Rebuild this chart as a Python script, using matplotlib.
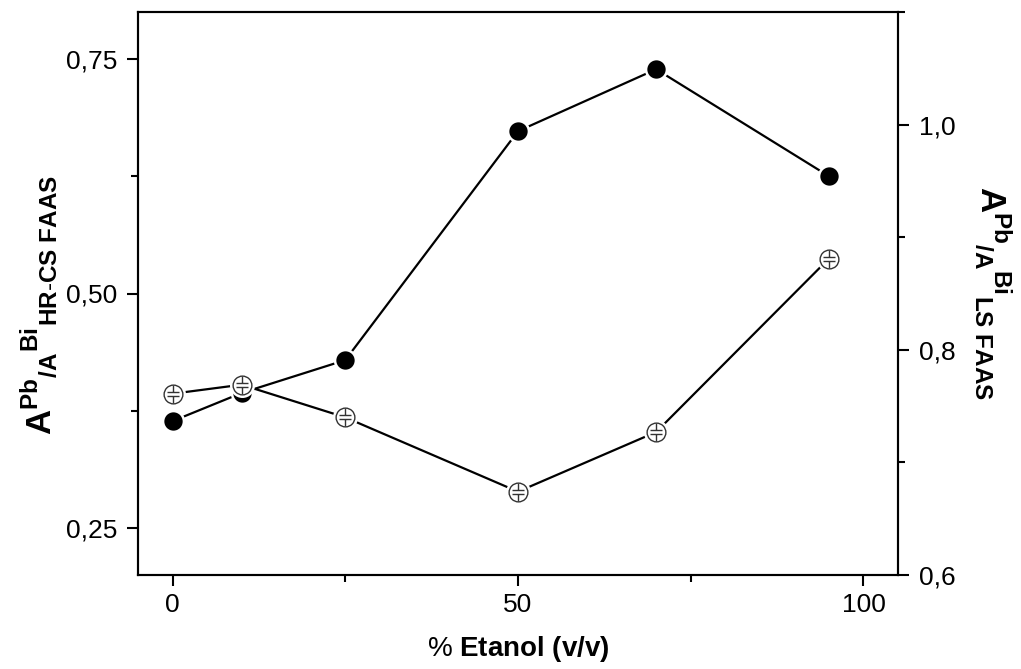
import numpy as np
import matplotlib
matplotlib.use('Agg')
import matplotlib.pyplot as plt
from matplotlib.path import Path
from matplotlib.ticker import MultipleLocator, FuncFormatter

plt.rcParams['font.family'] = ['Liberation Sans', 'DejaVu Sans']
plt.rcParams['mathtext.fontset'] = 'custom'
plt.rcParams['mathtext.rm'] = 'Liberation Sans'
plt.rcParams['mathtext.bf'] = 'Liberation Sans:bold'
plt.rcParams['mathtext.it'] = 'Liberation Sans:italic'

# data
etanol = [0, 10, 25, 50, 70, 95]
hrcs_ratio = [0.364, 0.394, 0.429, 0.673, 0.739, 0.625]   # filled circles, left axis
ls_ratio = [0.761, 0.769, 0.740, 0.674, 0.727, 0.881]     # open circles, right axis

# circle with "capacitor" cross inside
cross_verts = [(0, 1), (0, 0.17), (-0.6, 0.17), (0.6, 0.17),
               (-0.6, -0.17), (0.6, -0.17), (0, -0.17), (0, -1)]
cross_codes = [Path.MOVETO, Path.LINETO, Path.MOVETO, Path.LINETO,
               Path.MOVETO, Path.LINETO, Path.MOVETO, Path.LINETO]
cross_marker = Path(cross_verts, cross_codes)

fig = plt.figure(figsize=(10.21, 6.69), dpi=100)
ax = fig.add_axes([138 / 1021, 1 - 575 / 669, (898 - 138) / 1021, (575 - 12) / 669])
ax2 = ax.twinx()

ax.plot(etanol, hrcs_ratio, color='black', lw=1.6, marker='o', ms=15,
        mfc='black', mec='white', mew=1.8, zorder=3)

ax2.plot(etanol, ls_ratio, color='black', lw=1.6, marker='o', ms=15.5,
         mfc='white', mec='white', mew=2.5, zorder=3)
ax2.plot(etanol, ls_ratio, ls='none', marker='o', ms=13.5,
         mfc='white', mec='#333333', mew=1.0, zorder=4)
ax2.plot(etanol, ls_ratio, ls='none', marker=cross_marker, ms=13.5,
         mfc='none', mec='#333333', mew=1.0, zorder=5)

ax.set_xlim(-5, 105)
ax.set_ylim(0.2, 0.8)
ax2.set_ylim(0.6, 1.1)

ax.xaxis.set_major_locator(MultipleLocator(50))
ax.xaxis.set_minor_locator(MultipleLocator(25))
ax.yaxis.set_major_locator(MultipleLocator(0.25))
ax.yaxis.set_minor_locator(MultipleLocator(0.125))
ax2.yaxis.set_major_locator(MultipleLocator(0.2))
ax2.yaxis.set_minor_locator(MultipleLocator(0.1))

ax.yaxis.set_major_formatter(FuncFormatter(lambda v, p: ('%.2f' % v).replace('.', ',')))
ax2.yaxis.set_major_formatter(FuncFormatter(lambda v, p: ('%.1f' % v).replace('.', ',')))

for a in (ax, ax2):
    for s in a.spines.values():
        s.set_linewidth(1.5)
    a.tick_params(which='major', direction='out', length=8, width=1.5, labelsize=19, pad=7)
    a.tick_params(which='minor', direction='out', length=5, width=1.5)
ax.tick_params(axis='x', which='major', pad=5)

ax.set_xlabel(r'% $\mathbf{Etanol\ (v/v)}$', fontsize=20, labelpad=12)
ax.set_ylabel(r'$\mathbf{A^{Pb}{}_{/A}{}^{Bi}{}_{HR\text{-}CS\ FAAS}}$', fontsize=25)
ax.yaxis.set_label_coords(-0.104, 0.48)
ax2.set_ylabel(r'$\mathbf{A^{Pb}{}_{/A}{}^{Bi}{}_{LS\ FAAS}}$', fontsize=25, rotation=270)
ax2.yaxis.set_label_coords(1.152, 0.5)

fig.savefig('out.png', dpi=100)
